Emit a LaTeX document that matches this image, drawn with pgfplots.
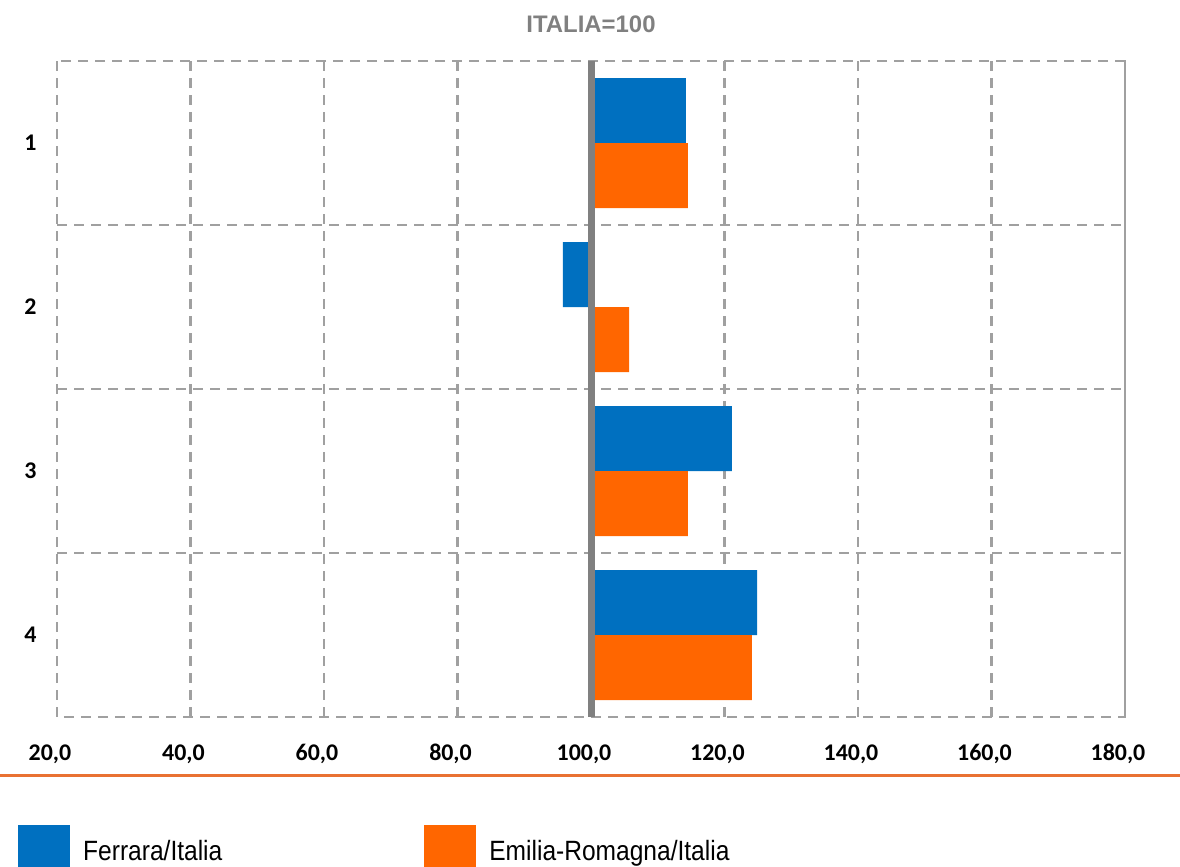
\documentclass[border=0pt]{standalone}
\usepackage{pgfplots}
\pgfplotsset{compat=1.18}
\usepackage{fontspec}
\setmainfont{Carlito}
\newfontfamily\titfont{Liberation Sans}
\newfontfamily\legfont[FakeStretch=0.88]{Liberation Sans}
\definecolor{cblue}{HTML}{0070C0}
\definecolor{corange}{HTML}{FF6600}
\definecolor{gridgray}{HTML}{A0A0A0}
\definecolor{linegray}{HTML}{808080}
\definecolor{sepor}{HTML}{E97132}
\begin{document}
\begin{tikzpicture}
\path[use as bounding box] (0,0) rectangle (1180bp,867bp);
\draw[sepor, line width=3bp] (0,91bp) -- (1180bp,91bp);
\begin{axis}[
  at={(57bp,150bp)}, anchor=south west,
  scale only axis, width=1068bp, height=656bp,
  xmin=-80, xmax=80, ymin=0.5, ymax=4.5, y dir=reverse,
  xbar, bar width=65bp,
  x filter/.expression={x-100},
  xtick={-80,-60,...,80},
  xticklabels={{20,0},{40,0},{60,0},{80,0},{100,0},{120,0},{140,0},{160,0},{180,0}},
  ytick={1,2,3,4},
  minor ytick={1.5,2.5,3.5},
  /pgf/number format/assume math mode=true,
  xmajorgrids, yminorgrids,
  major grid style={gridgray, line width=2.2bp, dash pattern=on 10bp off 7bp},
  minor grid style={gridgray, line width=2.2bp, dash pattern=on 10bp off 7bp},
  axis line style={gridgray, line width=2.2bp, dash pattern=on 10bp off 7bp},
  major tick length=0pt, minor tick length=0pt,
  tick label style={font=\fontsize{24}{27}\selectfont\bfseries, text=black},
  xticklabel style={anchor=base, yshift=-43bp, xshift=-7bp},
  yticklabel style={xshift=-17bp},
  title={ITALIA=100},
  title style={font=\titfont\fontsize{24}{28}\selectfont\bfseries, text=linegray, yshift=19bp},
  legend columns=2,
  legend style={at={(-0.0365,-0.2043)}, anchor=west, draw=none, fill=none,
    font=\legfont\fontsize{28}{31}\selectfont, inner sep=0pt,
    column sep=11bp,
    /tikz/every even column/.append style={column sep=200bp}},
  legend image code/.code={\fill[#1] (0bp,-26bp) rectangle (52bp,26bp);},
]
\addplot[fill=cblue, draw=none, bar shift=32.5bp] coordinates {
  (114.2,1) (95.8,2) (121.1,3) (124.9,4)};
\addlegendentry{Ferrara/Italia}
\addplot[fill=corange, draw=none, bar shift=-32.5bp] coordinates {
  (114.5,1) (105.7,2) (114.5,3) (124.1,4)};
\addlegendentry{Emilia-Romagna/Italia}
\addplot[linegray, line width=7bp, forget plot, sharp plot] coordinates {(100,0.5) (100,4.5)};
\end{axis}
\end{tikzpicture}
\end{document}
